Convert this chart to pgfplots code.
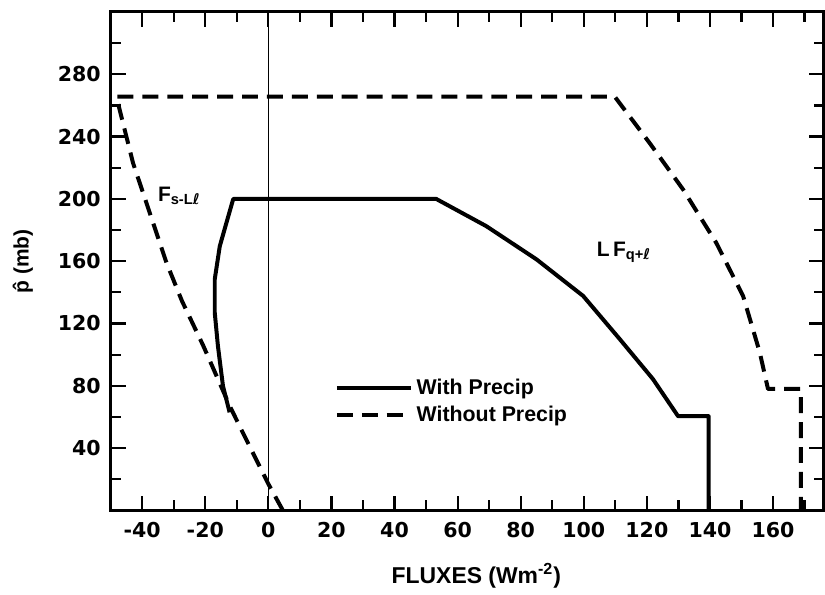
\documentclass[border=0pt]{standalone}
\usepackage{pgfplots}
\pgfplotsset{compat=1.18}
\usepackage{fontspec}
\setmainfont{Liberation Sans}
\newfontfamily\tickfont{DejaVu Sans}
\begin{document}
\begin{tikzpicture}
\begin{axis}[
  name=ax,
  scale only axis,
  width=357.5pt, height=250pt,
  xmin=-50, xmax=176, ymin=0, ymax=320,
  xtick={-40,-20,...,160}, minor xtick={-50,-30,...,170},
  ytick={40,80,...,280}, minor ytick={20,60,...,300},
  tick align=inside,
  major tick length=7.5pt, minor tick length=5pt,
  every tick/.style={line width=1.1pt, black},
  axis line style={line width=1.5pt},
  tick label style={font=\tickfont\bfseries\fontsize{10.3}{12}\selectfont},
  /pgf/number format/assume math mode=true,
  xticklabel style={yshift=-2.5pt},
  yticklabel style={xshift=-1.5pt},
  legend style={draw=none, fill=none, at={(0.314,0.272)}, anchor=north west,
    font=\bfseries\fontsize{10.7}{12}\selectfont, row sep=0pt, inner sep=0pt,
    /tikz/column 2/.style={column sep=3pt}},
  legend cell align=left,
  legend image code/.code={\draw[#1] (0pt,0pt) -- (37pt,0pt);},
  clip=false,
]
\draw[line width=0.8pt] (axis cs:0,0) -- (axis cs:0,320);
\addplot[black, line width=2pt, line join=round] coordinates {
(-12.3,63) (-14.4,80) (-16,105.7) (-17,127) (-17,148.4) (-15.4,169.7)
(-11.2,199.5) (-11,200) (53.2,200) (69.1,182.5) (85,161.2) (99.8,137.7)
(111.4,110) (121.9,84.4) (129.9,60.5) (139.6,60.5) (139.6,0)
};
\addlegendentry{With Precip}
\addplot[black, line width=2pt, line join=round, dash pattern=on 8pt off 4.5pt] coordinates {
(4.6,0) (0,17) (-8.6,52) (-12.3,67.3) (-20.7,106) (-27.4,134.5) (-32.3,159)
(-37.6,191) (-42.9,223) (-48.2,265.7) (109.8,265.7) (120.9,235.8)
(131.5,206) (142,171.8) (150.5,137.7) (155.8,101.4) (158.4,78) (168.8,78) (168.8,0)
};
\addlegendentry{Without Precip}
\node[inner sep=0pt, anchor=base west, font=\bfseries\fontsize{10.5}{12}\selectfont] at (axis cs:-35.1,198.5) {F\textsubscript{s-L{\tickfont ℓ}}};
\node[inner sep=0pt, anchor=base west, font=\bfseries\fontsize{10.5}{12}\selectfont] at (axis cs:104,163.3) {L\,F\textsubscript{q+{\tickfont ℓ}}};
\node[anchor=base, font=\bfseries\fontsize{11.5}{13}\selectfont] at (rel axis cs:0.513,0) [yshift=-36.5pt] {FLUXES (Wm\textsuperscript{-2})};
\node[xshift=-44pt, rotate=90, font=\bfseries\fontsize{10.5}{12}\selectfont] at (rel axis cs:0,0.5) {\^{p} (mb)};
\end{axis}
\path ([xshift=-55.5pt,yshift=-37.5pt]ax.south west) rectangle ([yshift=6pt]ax.north east);
\end{tikzpicture}
\end{document}
